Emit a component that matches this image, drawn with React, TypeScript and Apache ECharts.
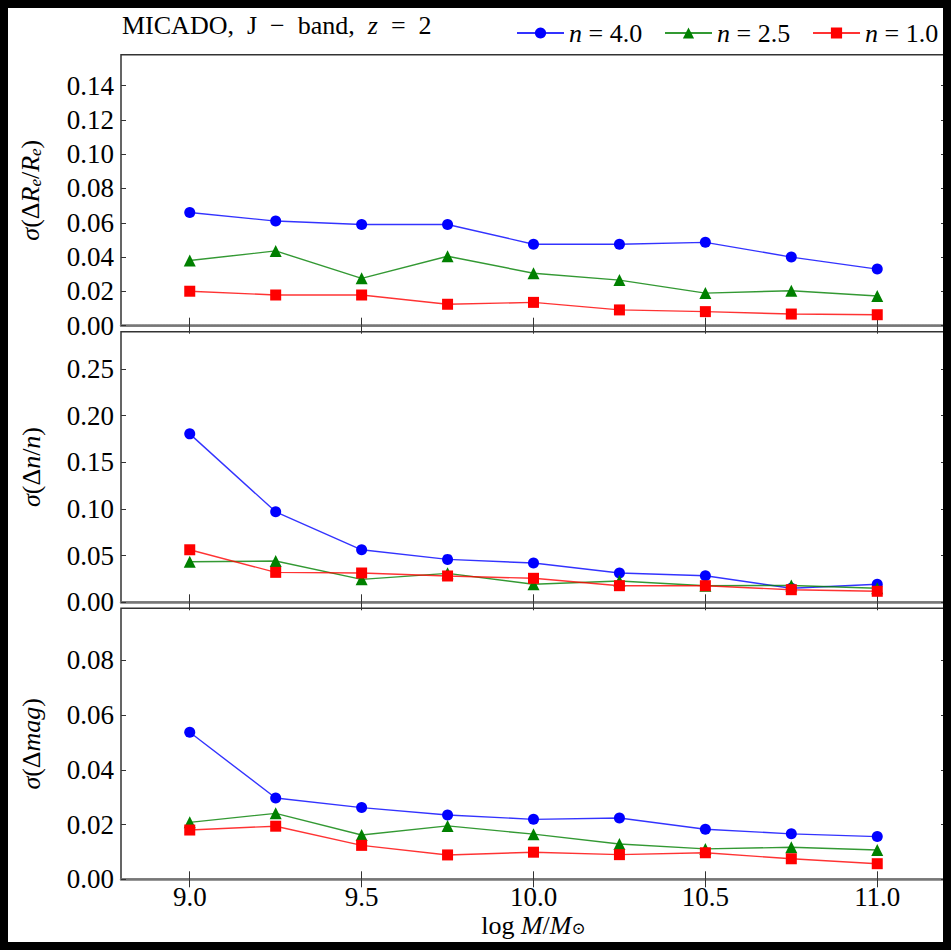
import React, { useEffect, useRef } from "react";
import * as echarts from "echarts";

const massBins = [9.0, 9.25, 9.5, 9.75, 10.0, 10.25, 10.5, 10.75, 11.0];
const xTicks = [9.0, 9.5, 10.0, 10.5, 11.0];

const seriesNames = ["n = 4.0", "n = 2.5", "n = 1.0"];
const seriesColors = ["#0000ff", "#008000", "#ff0000"];
const seriesSymbols = ["circle", "triangle", "rect"];
const seriesSymbolSizes = [11, 12, 11];

// Panel 1: sigma(dRe/Re)
const reN40 = [0.066, 0.061, 0.059, 0.059, 0.0475, 0.0475, 0.0486, 0.040, 0.033];
const reN25 = [0.038, 0.0436, 0.0276, 0.0405, 0.0306, 0.0266, 0.019, 0.0204, 0.0173];
const reN10 = [0.0201, 0.0179, 0.0179, 0.0125, 0.0136, 0.0092, 0.0082, 0.0068, 0.0064];
const reTicks = [0, 0.02, 0.04, 0.06, 0.08, 0.1, 0.12, 0.14];

// Panel 2: sigma(dn/n)
const nN40 = [0.1805, 0.097, 0.0563, 0.046, 0.0421, 0.0314, 0.0285, 0.015, 0.0193];
const nN25 = [0.0435, 0.0442, 0.0246, 0.031, 0.0193, 0.0228, 0.0178, 0.018, 0.015];
const nN10 = [0.0563, 0.0321, 0.0314, 0.0282, 0.0257, 0.0178, 0.0178, 0.0135, 0.0118];
const nTicks = [0, 0.05, 0.1, 0.15, 0.2, 0.25];

// Panel 3: sigma(dmag)
const magN40 = [0.0537, 0.0297, 0.0262, 0.0235, 0.0219, 0.0224, 0.0183, 0.0166, 0.0156];
const magN25 = [0.0208, 0.0241, 0.0162, 0.0195, 0.0165, 0.0129, 0.0111, 0.0117, 0.0107];
const magN10 = [0.018, 0.0194, 0.0124, 0.0089, 0.0099, 0.009, 0.0097, 0.0075, 0.0057];
const magTicks = [0, 0.02, 0.04, 0.06, 0.08];

const FONT = "'Liberation Serif', 'DejaVu Serif', serif";
const FS = 26;

const richBase = {
  a: { fontFamily: FONT, fontSize: FS, color: "#000" },
  i: { fontFamily: FONT, fontSize: FS, fontStyle: "italic", color: "#000" },
  t: { fontFamily: FONT, fontSize: 27, lineHeight: 22, color: "#000" },
  s: { fontFamily: FONT, fontSize: 17, fontStyle: "italic", color: "#000", verticalAlign: "bottom", padding: [10, 0, 0, 0] },
  u: { fontFamily: FONT, fontSize: 17, color: "#000", verticalAlign: "bottom", padding: [10, 0, 0, 0] },
};

const richXName = {
  a: { fontFamily: FONT, fontSize: FS, lineHeight: 24, color: "#000" },
  i: { fontFamily: FONT, fontSize: FS, lineHeight: 24, fontStyle: "italic", color: "#000" },
  u: { fontFamily: FONT, fontSize: 17, lineHeight: 18, color: "#000", verticalAlign: "bottom", padding: [4, 0, 0, 0] },
};

const panels = [
  { values: [reN40, reN25, reN10], max: 0.158, ticks: reTicks, name: "{i|σ}{a|(Δ}{i|R}{s|e}{a|/}{i|R}{s|e}{a|)}", top: 46.7, height: 271 },
  { values: [nN40, nN25, nN10], max: 0.29, ticks: nTicks, name: "{i|σ}{a|(Δ}{i|n}{a|/}{i|n}{a|)}", top: 323.7, height: 270.6 },
  { values: [magN40, magN25, magN10], max: 0.099, ticks: magTicks, name: "{i|σ}{a|(Δ}{i|mag}{a|)}", top: 600.3, height: 271 },
];

export default function App() {
  const ref = useRef<HTMLDivElement>(null);

  useEffect(() => {
    document.body.style.background = "#000";
    if (!ref.current) return;
    const chart = echarts.init(ref.current, null, { renderer: "svg" });

    const grids: any[] = [];
    const xAxes: any[] = [];
    const yAxes: any[] = [];
    const series: any[] = [];

    panels.forEach((p, i) => {
      grids.push({
        left: 113,
        top: p.top,
        width: 825,
        height: p.height,
        outerBoundsMode: "none",
        containLabel: false,
        show: true,
        borderColor: "#333",
        borderWidth: 1.5,
        backgroundColor: "rgba(0,0,0,0)",
      });
      const isLast = i === panels.length - 1;
      xAxes.push({
        gridIndex: i,
        type: "value",
        min: 8.8,
        max: 11.2,
        position: "bottom",
        axisLine: { show: true, onZero: false, lineStyle: { color: "#777", width: 2.5, type: [2, 1] } },
        axisTick: { show: true, inside: true, length: 8, customValues: xTicks, lineStyle: { color: "#333", width: 1 } },
        axisLabel: {
          show: isLast,
          customValues: xTicks,
          formatter: (v: number) => "{t|" + v.toFixed(1) + "}",
          margin: 7,
          fontFamily: FONT,
          fontSize: 27,
          color: "#000",
          rich: richBase,
        },
        splitLine: { show: false },
        name: isLast ? "{a|log }{i|M}{a|/}{i|M}{u|⊙}" : "",
        nameLocation: "middle",
        nameMoveOverlap: false,
        nameGap: 34,
        nameTextStyle: { rich: richXName, fontFamily: FONT, fontSize: FS },
      });
      xAxes.push({
        gridIndex: i,
        type: "value",
        min: 8.8,
        max: 11.2,
        position: "top",
        axisLine: { show: false },
        axisTick: { show: true, inside: true, length: 8, customValues: xTicks, lineStyle: { color: "#333", width: 1 } },
        axisLabel: { show: false },
        splitLine: { show: false },
      });
      yAxes.push({
        gridIndex: i,
        type: "value",
        min: 0,
        max: p.max,
        position: "left",
        axisLine: { show: false },
        axisTick: { show: true, inside: true, length: 5, customValues: p.ticks, lineStyle: { color: "#333", width: 1 } },
        axisLabel: {
          customValues: p.ticks,
          formatter: (v: number) => "{t|" + v.toFixed(2) + "}",
          margin: 7,
          fontFamily: FONT,
          fontSize: 27,
          color: "#000",
          rich: richBase,
        },
        splitLine: { show: false },
        name: p.name,
        nameLocation: "middle",
        nameRotate: 90,
        nameGap: 77,
        nameTextStyle: { rich: richBase, fontFamily: FONT, fontSize: FS },
      });
      yAxes.push({
        gridIndex: i,
        type: "value",
        min: 0,
        max: p.max,
        position: "right",
        axisLine: { show: false },
        axisTick: { show: true, inside: true, length: 5, customValues: p.ticks, lineStyle: { color: "#333", width: 1 } },
        axisLabel: { show: false },
        splitLine: { show: false },
      });
      p.values.forEach((arr, k) => {
        series.push({
          type: "line",
          name: seriesNames[k],
          xAxisIndex: 2 * i,
          yAxisIndex: 2 * i,
          data: massBins.map((m, j) => [m, arr[j]]),
          symbol: seriesSymbols[k],
          symbolSize: seriesSymbolSizes[k],
          showSymbol: true,
          itemStyle: { color: seriesColors[k] },
          lineStyle: { color: seriesColors[k], width: 1.4, opacity: 0.8 },
          z: 2 + k,
        });
      });
    });

    const legendLefts = [508, 656, 804];
    const legends = seriesNames.map((nm, k) => ({
      data: [nm],
      left: legendLefts[k],
      top: 12,
      padding: 0,
      itemWidth: 47,
      itemHeight: 14,
      itemGap: 0,
      formatter: (name: string) => "{i|n}{a| = " + name.split("= ")[1] + "}",
      textStyle: { rich: richBase, fontFamily: FONT, fontSize: FS, color: "#000" },
    }));

    chart.setOption({
      animation: false,
      backgroundColor: "#fff",
      title: {
        text: "{a|MICADO,\u2002J\u2002−\u2002band,\u2002}{i|z}{a|\u2002=\u20022}",
        left: 114,
        top: 4,
        padding: 0,
        textStyle: { rich: richBase, fontFamily: FONT, fontSize: FS, fontWeight: "normal", color: "#000" },
      },
      legend: legends,
      grid: grids,
      xAxis: xAxes,
      yAxis: yAxes,
      series,
    });

    return () => chart.dispose();
  }, []);

  return <div ref={ref} style={{ width: 943, height: 934, background: "#fff" }} />;
}
